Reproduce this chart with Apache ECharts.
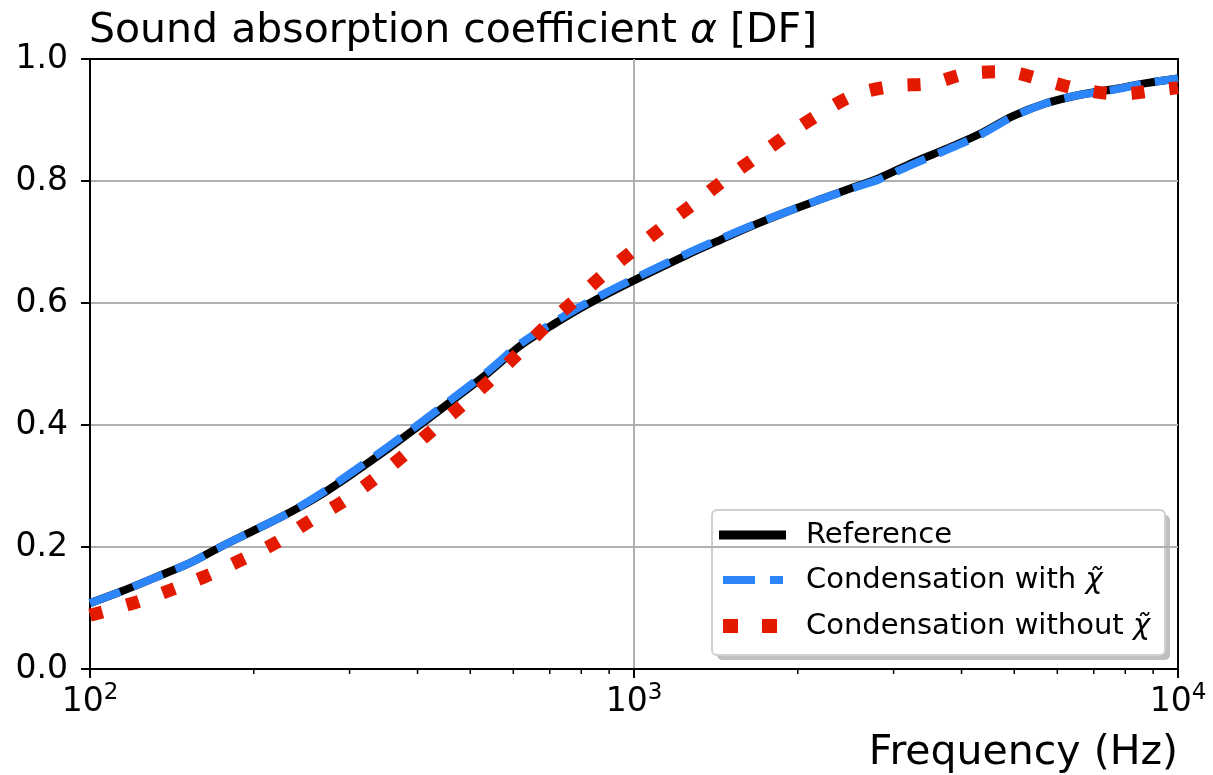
<!DOCTYPE html>
<html>
<head>
<meta charset="utf-8">
<script src="https://cdn.jsdelivr.net/npm/echarts@6/dist/echarts.min.js"></script>
<style>
html,body{margin:0;padding:0;background:#fff;}
#chart{width:1213px;height:775px;}
</style>
</head>
<body>
<div id="chart"></div>
<script>
// ---- data ----
const freqRef = [100, 114, 131, 152, 174, 201, 231, 266, 307, 353, 407, 468, 539, 620, 714, 822, 1000, 1253, 1446, 1665, 1915, 2201, 2541, 2827, 3269, 3758, 4317, 4960, 5700, 6580, 7560, 8690, 10000];
const alphaWithChi = [0.108, 0.127, 0.149, 0.173, 0.2005, 0.228, 0.255, 0.288, 0.326, 0.3645, 0.405, 0.446, 0.488, 0.534, 0.569, 0.601, 0.640, 0.6815, 0.706, 0.729, 0.750, 0.770, 0.789, 0.803, 0.828, 0.851, 0.875, 0.905, 0.927, 0.941, 0.949, 0.960, 0.968];
const alphaReference = [0.108, 0.127, 0.149, 0.173, 0.2005, 0.228, 0.255, 0.286, 0.323, 0.361, 0.402, 0.443, 0.485, 0.531, 0.566, 0.598, 0.637, 0.679, 0.704, 0.728, 0.750, 0.770, 0.790, 0.805, 0.831, 0.853, 0.877, 0.906, 0.927, 0.941, 0.950, 0.960, 0.968];
const freqNoChi = [100, 120.8, 140.7, 163.6, 189.6, 219.8, 252.3, 289.6, 331.2, 376, 425, 481, 549, 613, 689, 780, 882, 999, 1135, 1295, 1471, 1683, 1920, 2201, 2541, 2994, 3520, 4108, 4832, 5640, 6630, 7860, 9160, 10000];
const alphaWithoutChi = [0.088, 0.1087, 0.1295, 0.1525, 0.1787, 0.2071, 0.2415, 0.2727, 0.3098, 0.349, 0.3907, 0.431, 0.4765, 0.5175, 0.5623, 0.605, 0.6475, 0.6869, 0.7262, 0.7644, 0.8028, 0.840, 0.8765, 0.9108, 0.941, 0.9557, 0.960, 0.9765, 0.979, 0.9656, 0.950, 0.9426, 0.949, 0.953];
const minorTickFreqs = [200, 300, 400, 500, 600, 700, 800, 900, 2000, 3000, 4000, 5000, 6000, 7000, 8000, 9000];
const seriesNames = ['Reference', 'Condensation with ', 'Condensation without '];
const titleText = 'Sound absorption coefficient ';
const xAxisTitle = 'Frequency (Hz)';

const FONT = 'DejaVu Sans';
const C_BLACK = '#000000', C_BLUE = '#2c86fa', C_RED = '#e31a00';

function zip(xs, ys) { return xs.map((x, i) => [x, ys[i]]); }

const chart = echarts.init(document.getElementById('chart'), null, {renderer: 'canvas'});

const gridL = 90, gridT = 59, gridR = 1178, gridB = 669;

const legendX = 712, legendY = 510, legendW = 453, legendH = 145;
const legendRows = [535, 580, 626];
const LEG_FS = 29;

const option = {
  backgroundColor: '#ffffff',
  animation: false,
  title: {
    text: '{a|' + titleText + '}{i|α}{a| [DF]}',
    left: 89, top: 8, padding: 0,
    textStyle: {
      rich: {
        a: {fontFamily: FONT, fontSize: 41, fontWeight: 'normal', color: '#000', lineHeight: 46},
        i: {fontFamily: FONT, fontSize: 41, fontWeight: 'normal', color: '#000', fontStyle: 'italic', lineHeight: 46}
      }
    }
  },
  grid: {
    left: gridL, top: gridT, width: gridR - gridL, height: gridB - gridT,
    show: true, borderColor: '#000', borderWidth: 2, backgroundColor: '#fff'
  },
  xAxis: {
    type: 'log', logBase: 10, min: 100, max: 10000,
    name: xAxisTitle, nameLocation: 'end',
    nameGap: 0,
    nameTextStyle: {fontFamily: FONT, fontSize: 41, color: '#000', align: 'right', verticalAlign: 'top', padding: [64, 0, 0, 0]},
    axisLine: {show: true, lineStyle: {color: '#000', width: 2}},
    axisTick: {show: true, inside: false, length: 9, lineStyle: {color: '#000', width: 2}},
    minorTick: {show: false},
    splitLine: {show: true, showMinLine: false, showMaxLine: false, lineStyle: {color: '#b0b0b0', width: 2}},
    axisLabel: {
      margin: 13,
      formatter: function (v) { return '{b|10}{s|' + Math.round(Math.log10(v)) + '}'; },
      rich: {
        b: {fontFamily: FONT, fontSize: 33, color: '#000', lineHeight: 40},
        s: {fontFamily: FONT, fontSize: 23, color: '#000', lineHeight: 26, verticalAlign: 'top'}
      }
    }
  },
  yAxis: {
    type: 'value', min: 0, max: 1, interval: 0.2,
    axisLine: {show: true, lineStyle: {color: '#000', width: 2}},
    axisTick: {show: true, inside: false, length: 9, lineStyle: {color: '#000', width: 2}},
    splitLine: {show: true, showMinLine: false, showMaxLine: false, lineStyle: {color: '#b0b0b0', width: 2}},
    axisLabel: {
      margin: 22, fontFamily: FONT, fontSize: 33, color: '#000',
      formatter: function (v) { return v.toFixed(1); }
    }
  },
  series: [
    {
      name: seriesNames[0], type: 'line', data: zip(freqRef, alphaReference),
      showSymbol: false, symbol: 'none', smooth: 0.3,
      lineStyle: {color: C_BLACK, width: 8, cap: 'butt'}, z: 2
    },
    {
      name: seriesNames[1], type: 'line', data: zip(freqRef, alphaWithChi),
      showSymbol: false, symbol: 'none', smooth: 0.3,
      lineStyle: {color: C_BLUE, width: 8, type: [32, 14], cap: 'butt'}, z: 3
    },
    {
      name: seriesNames[2], type: 'line', data: zip(freqNoChi, alphaWithoutChi),
      showSymbol: false, symbol: 'none', smooth: 0.3,
      lineStyle: {color: C_RED, width: 13, type: [13, 25], cap: 'butt'}, z: 4
    },
    {
      name: 'minorTicks', type: 'custom', clip: false, silent: true, z: 10,
      data: minorTickFreqs.map(f => [f, 0]),
      encode: {x: 0, y: 1},
      renderItem: function (params, api) {
        const p = api.coord([api.value(0), 0]);
        return {
          type: 'line',
          shape: {x1: p[0], y1: p[1], x2: p[0], y2: p[1] + 5},
          style: {stroke: '#000', lineWidth: 1.5}
        };
      }
    }
  ],
  graphic: [
    {
      type: 'group', z: 100,
      children: [
        {type: 'rect', shape: {x: legendX + 5, y: legendY + 5, width: legendW, height: legendH, r: 5},
         style: {fill: '#8a8a8a', opacity: 0.55}},
        {type: 'rect', shape: {x: legendX, y: legendY, width: legendW, height: legendH, r: 5},
         style: {fill: '#ffffff', stroke: '#d0d0d0', lineWidth: 2}},
        {type: 'line', shape: {x1: 719, y1: legendRows[0], x2: 786, y2: legendRows[0]},
         style: {stroke: C_BLACK, lineWidth: 9, lineCap: 'butt'}},
        {type: 'line', shape: {x1: 723, y1: legendRows[1], x2: 783, y2: legendRows[1]},
         style: {stroke: C_BLUE, lineWidth: 8, lineDash: [32, 15], lineCap: 'butt'}},
        {type: 'line', shape: {x1: 723, y1: legendRows[2], x2: 786, y2: legendRows[2]},
         style: {stroke: C_RED, lineWidth: 14, lineDash: [15, 24], lineCap: 'butt'}},
        {type: 'text', x: 806, y: legendRows[0],
         style: {text: seriesNames[0], fontFamily: FONT, fontSize: LEG_FS, fill: '#000', verticalAlign: 'middle'}},
        {type: 'text', x: 806, y: legendRows[1],
         style: {text: '{a|' + seriesNames[1] + '}{i|χ̃}', verticalAlign: 'middle',
                 rich: {a: {fontFamily: FONT, fontSize: LEG_FS, fill: '#000'}, i: {fontFamily: FONT, fontSize: LEG_FS, fill: '#000', fontStyle: 'italic'}}}},
        {type: 'text', x: 806, y: legendRows[2],
         style: {text: '{a|' + seriesNames[2] + '}{i|χ̃}', verticalAlign: 'middle',
                 rich: {a: {fontFamily: FONT, fontSize: LEG_FS, fill: '#000'}, i: {fontFamily: FONT, fontSize: LEG_FS, fill: '#000', fontStyle: 'italic'}}}}
      ]
    }
  ]
};
chart.setOption(option);
</script>
</body>
</html>
